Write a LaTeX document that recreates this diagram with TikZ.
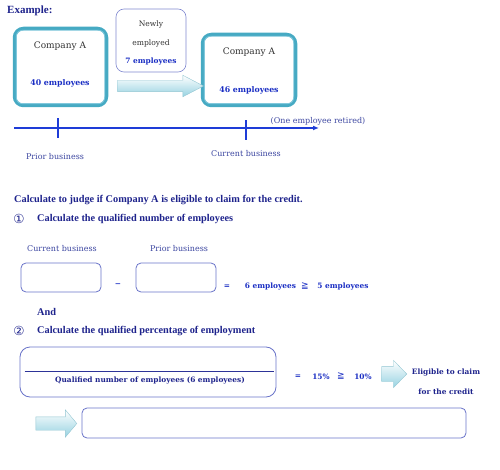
\documentclass[tikz,border=0pt]{standalone}
\usepackage{fontspec}
\setmainfont{Liberation Serif}
\newfontfamily\centfont{DejaVu Serif}
\newfontfamily\symfont{DejaVu Sans}
\usetikzlibrary{shapes.arrows,arrows.meta,positioning}
\definecolor{navy}{RGB}{30,35,140}
\definecolor{brightblue}{RGB}{25,45,195}
\definecolor{labelblue}{RGB}{60,70,160}
\definecolor{framecol}{RGB}{105,115,200}
\definecolor{tealcol}{RGB}{70,170,195}
\definecolor{teallight}{RGB}{130,200,220}
\definecolor{axisblue}{RGB}{30,60,215}
\definecolor{arrowcyan}{RGB}{150,210,225}
\definecolor{darktext}{RGB}{50,50,50}
\begin{document}
\begin{tikzpicture}[x=1pt,y=-1pt,
  heading/.style={font=\fontsize{10.3}{12}\selectfont\bfseries,text=navy,inner sep=0pt,anchor=west},
  label/.style={font=\centfont\fontsize{8}{9}\selectfont,text=labelblue,inner sep=0pt},
  plain/.style={font=\centfont\fontsize{7.6}{9}\selectfont,text=darktext,inner sep=0pt},
  num/.style={font=\centfont\bfseries\fontsize{7.4}{9}\selectfont,text=brightblue,inner sep=0pt},
  circnum/.style={text=navy,inner sep=0pt,font=\symfont\fontsize{12.5}{13}\selectfont},
  geq/.style={text=brightblue,inner sep=0pt,font=\symfont\fontsize{9}{10}\selectfont},
  compbox/.style={draw=tealcol,line width=3.5pt,rounded corners=9pt,minimum width=92pt},
  calcbox/.style={draw=framecol,line width=0.8pt,rounded corners=5pt,minimum width=80pt,minimum height=29pt},
  fatarrow/.style={single arrow,single arrow head indent=0pt,inner sep=0pt,
    top color=white,bottom color=arrowcyan,draw=arrowcyan!85!gray,line width=0.4pt}]
  \useasboundingbox (0,0) rectangle (500,470);

  \node[heading,font=\fontsize{11}{13}\selectfont\bfseries] (ex) at (7,11) {Example:};

  % companies before and after
  \node[compbox,minimum height=77pt] (compA) at (60.5,67) {};
  \node[compbox,minimum height=71pt,minimum width=93pt] (compB) at (249,70) {};
  \foreach \c in {compA,compB}
    \draw[teallight,line width=0.8pt,rounded corners=6pt]
      ([shift={(3.6pt,-3.6pt)}]\c.north west) rectangle ([shift={(-3.6pt,3.6pt)}]\c.south east);
  \node[plain,font=\centfont\fontsize{9}{11}\selectfont] (nameA) at (60,46) {Company A};
  \node[num,font=\centfont\bfseries\fontsize{7.8}{9}\selectfont] (staffA) at (60,83) {40 employees};
  \node[plain,font=\centfont\fontsize{9}{11}\selectfont] (nameB) at (249,52) {Company A};
  \node[num,font=\centfont\bfseries\fontsize{7.8}{9}\selectfont] (staffB) at (249,90) {46 employees};

  \node[draw=framecol!85,line width=0.6pt,rounded corners=8pt,minimum width=70pt,minimum height=63pt] (newbox) at (151,40.5) {};
  \node[plain] (newA) at (151,24) {Newly};
  \node[plain] (newB) at (151,43) {employed};
  \node[num] (newC) at (151,62) {7 employees};
  \node[fatarrow,minimum height=86pt,inner ysep=5.5pt,single arrow head extend=5pt,single arrow tip angle=55] (arrowA) at (155,86) {};

  % time line
  \coordinate (tlstart) at (14,128);
  \coordinate (tlend) at (319,128);
  \coordinate (tickA) at (58,128);
  \coordinate (tickB) at (246,130);
  \draw[axisblue,line width=1.2pt,-{Latex[length=6pt,width=5pt]}] (tlstart) -- (tlend);
  \draw[axisblue,line width=1.5pt] ([yshift=-10pt]tickA) -- ([yshift=10pt]tickA);
  \draw[axisblue,line width=1.5pt] ([yshift=-10pt]tickB) -- ([yshift=10pt]tickB);
  \node[label] (prior) at (55,157) {Prior business};
  \node[label] (current) at (246,154) {Current business};
  \node[label] (retired) at (318,121) {(One employee retired)};

  % step 1
  \node[heading] (judge) at (14,200) {Calculate to judge if Company A is eligible to claim for the credit.};
  \node[circnum] (one) at (19,219) {①};
  \node[heading] (stepA) at (37,219) {Calculate the qualified number of employees};
  \node[label] (curlab) at (62,249) {Current business};
  \node[label] (prilab) at (179,249) {Prior business};
  \node[calcbox] (curbox) at (61,277.5) {};
  \node[calcbox] (pribox) at (176,277.5) {};
  \node[num] (minus) at (118,285) {−};
  \node[num] (eqA) at (227,287) {=};
  \node[num] (sixemp) at (270.5,287) {6 employees};
  \node[geq] (geqA) at (305,286) {≧};
  \node[num] (fiveemp) at (343,287) {5 employees};

  % step 2
  \node[heading] (and) at (37,312) {And};
  \node[circnum] (two) at (19,331) {②};
  \node[heading] (stepB) at (37,331) {Calculate the qualified percentage of employment};
  \node[calcbox,minimum width=256pt,minimum height=50pt,rounded corners=10pt] (frac) at (148,372) {};
  \draw[navy!80!framecol,line width=0.9pt] ([xshift=5pt,yshift=1pt]frac.west) -- ([xshift=-2pt,yshift=1pt]frac.east);
  \node[num,text=navy] (denom) at (150,381) {Qualified number of employees (6 employees)};
  \node[num] (eqB) at (298,377) {=};
  \node[num] (fifteen) at (321,377) {15\%};
  \node[geq] (geqB) at (341,376) {≧};
  \node[num] (ten) at (363,377) {10\%};
  \node[fatarrow,minimum height=25pt,inner ysep=7.5pt,single arrow head extend=6pt,single arrow tip angle=92] (arrowB) at (390.5,374) {};
  \node[num,text=navy] (eligA) at (446,373) {Eligible to claim};
  \node[num,text=navy] (eligB) at (446,392) {for the credit};

  % result
  \node[fatarrow,minimum height=41pt,inner ysep=6.5pt,single arrow head extend=7pt,single arrow tip angle=100] (arrowC) at (53.5,423.5) {};
  \node[calcbox,minimum width=384pt,minimum height=30pt] (result) at (274,423) {};
\end{tikzpicture}
\end{document}
